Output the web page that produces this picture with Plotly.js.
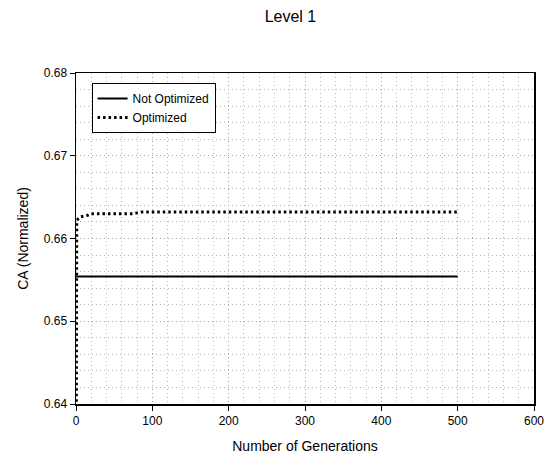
<!DOCTYPE html>
<html>
<head>
<meta charset="utf-8">
<script src="https://cdn.plot.ly/plotly-3.0.1.min.js"></script>
<style>html,body{margin:0;padding:0;background:#fff;}</style>
</head>
<body>
<div id="chart" style="width:548px;height:461px;"></div>
<script>
// Data
const notOptX = [0, 500];
const notOptY = [0.6554, 0.6554];
const optX = [0, 1, 5, 10, 15, 20, 75, 80, 85, 500];
const optY = [0.625, 0.6622, 0.6626, 0.6627, 0.6628, 0.6630, 0.6630, 0.6631, 0.6632, 0.6632];
const titleText = 'Level 1';
const xTitle = 'Number of Generations';
const yTitle = 'CA (Normalized)';

const font = 'Liberation Sans, Arial, sans-serif';

const traces = [
  {x: notOptX, y: notOptY, name: 'Not Optimized', mode: 'lines', type: 'scatter',
   line: {color: '#000', width: 2}},
  {x: optX, y: optY, name: 'Optimized', mode: 'lines', type: 'scatter',
   line: {color: '#000', width: 3, dash: '2.5px,3px'}}
];

const gridStyle = {showgrid: true, gridcolor: '#a8a8a8', gridwidth: 1, griddash: '1px,3px'};

const layout = {
  width: 548, height: 461,
  margin: {l: 76, r: 14, t: 73, b: 57},
  paper_bgcolor: '#fff', plot_bgcolor: '#fff',
  font: {family: font, size: 12, color: '#000'},
  title: {text: titleText, font: {family: font, size: 16, color: '#000'}, x: 0.53, xanchor: 'center', y: 0.965, yanchor: 'middle'},
  showlegend: true,
  legend: {x: 0.034, y: 0.97, xanchor: 'left', yanchor: 'top', bordercolor: '#000', borderwidth: 1,
           bgcolor: '#fff', font: {family: font, size: 12, color: '#000'}, tracegroupgap: 0},
  xaxis: Object.assign({
    range: [0, 600], dtick: 100, tick0: 0, ticks: 'outside', ticklen: 5, tickwidth: 1, tickcolor: '#000',
    showline: true, linecolor: '#000', linewidth: 1.5, mirror: true, zeroline: false,
    tickfont: {family: font, size: 12, color: '#000'},
    title: {text: xTitle, font: {family: font, size: 14, color: '#000'}, standoff: 14},
    minor: {dtick: 20, tick0: 0, showgrid: true, gridcolor: '#b8b8b8', gridwidth: 1, griddash: '1px,3px', ticks: ''}
  }, gridStyle),
  yaxis: Object.assign({
    range: [0.64, 0.68], dtick: 0.01, tick0: 0.64, tickformat: '.2f', ticks: 'outside', ticklen: 5, tickwidth: 1, tickcolor: '#000',
    showline: true, linecolor: '#000', linewidth: 1.5, mirror: true, zeroline: false,
    tickfont: {family: font, size: 12, color: '#000'},
    title: {text: yTitle, font: {family: font, size: 14, color: '#000'}, standoff: 12},
    minor: {dtick: 0.002, tick0: 0.64, showgrid: true, gridcolor: '#b8b8b8', gridwidth: 1, griddash: '1px,3px', ticks: ''}
  }, gridStyle)
};

Plotly.newPlot('chart', traces, layout, {displayModeBar: false, staticPlot: true});
</script>
</body>
</html>
